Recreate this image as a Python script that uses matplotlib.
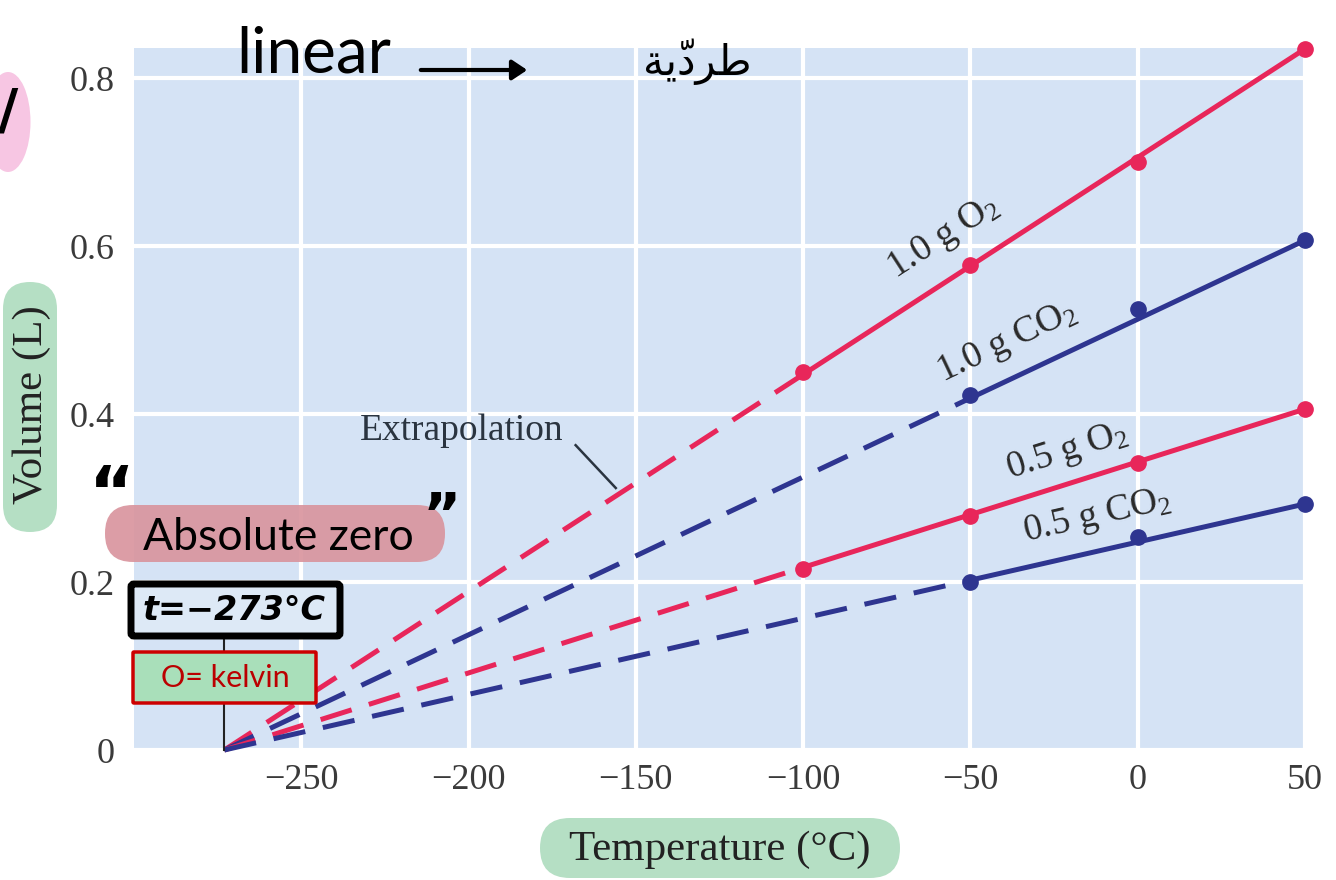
import numpy as np
import matplotlib
matplotlib.use("Agg")
import matplotlib.pyplot as plt
from matplotlib.patches import FancyBboxPatch, Ellipse, FancyArrowPatch

# ---------------- data ----------------
temps = [-100, -50, 0, 50]
o2_10 = [0.450, 0.577, 0.700, 0.835]
co2_10 = [None, 0.423, 0.525, 0.607]
o2_05 = [0.215, 0.279, 0.342, 0.406]
co2_05 = [None, 0.200, 0.254, 0.293]
abs_zero = -273
xticks = [-250, -200, -150, -100, -50, 0, 50]
xticklabels = ["\u2212250", "\u2212200", "\u2212150", "\u2212100", "\u221250", "0", "50"]
yticks = [0, 0.2, 0.4, 0.6, 0.8]
yticklabels = ["0", "0.2", "0.4", "0.6", "0.8"]

RED = "#e8265a"
BLUE = "#2e3590"
BG = "#d5e3f5"
GREEN = "#b5dfc4"

plt.rcParams['font.family'] = ['Liberation Serif', 'DejaVu Serif']
plt.rcParams['mathtext.fontset'] = 'custom'
plt.rcParams['mathtext.rm'] = 'Liberation Serif'
plt.rcParams['mathtext.it'] = 'Liberation Serif:italic'
plt.rcParams['mathtext.bf'] = 'Liberation Serif:bold'

fig = plt.figure(figsize=(13.36, 8.8), dpi=100)
fig.patch.set_facecolor("white")
ax = fig.add_axes([134/1336, 1-750/880, (1305-134)/1336, (750-48)/880])
ax.set_facecolor(BG)
ax.set_xlim(-300, 50)
ax.set_ylim(0, 0.836)
for s in ax.spines.values():
    s.set_visible(False)
ax.set_xticks(xticks)
ax.set_xticklabels(xticklabels)
ax.set_yticks(yticks)
ax.set_yticklabels(yticklabels)
ax.tick_params(length=0, labelsize=26, labelcolor="#3a3a3a")
ax.tick_params(axis='x', pad=10)
ax.tick_params(axis='y', pad=14)
ax.grid(True, color="white", linewidth=3)
ax.set_axisbelow(True)

series = [
    ("1.0 g O$_2$", o2_10, RED, (-58, 0.610)),
    ("1.0 g CO$_2$", co2_10, BLUE, (-39, 0.486)),
    ("0.5 g O$_2$", o2_05, RED, (-21, 0.356)),
    ("0.5 g CO$_2$", co2_05, BLUE, (-12, 0.278)),
]

for label, vals, col, (lx, ly) in series:
    xs = [t for t, v in zip(temps, vals) if v is not None]
    vs = [v for v in vals if v is not None]
    slope = vs[-1] / (xs[-1] - abs_zero)
    x0 = xs[0]
    ax.plot([abs_zero, x0], [0, slope * (x0 - abs_zero)], color=col, lw=3.6,
            linestyle=(0, (6.5, 3.6)), solid_capstyle='butt', clip_on=False, zorder=3)
    ax.plot([x0, xs[-1]], [slope * (x0 - abs_zero), vs[-1]], color=col, lw=3.6,
            solid_capstyle='round', clip_on=False, zorder=3)
    ax.plot(xs, vs, 'o', color=col, ms=11, clip_on=False, zorder=4)
    ang = np.degrees(np.arctan(slope))
    ax.text(lx, ly, label, fontsize=27, color="#2a2a2a", rotation=ang,
            transform_rotates_text=True, rotation_mode='anchor',
            ha='center', va='center', zorder=5)

# extrapolation label
ax.text(-232.5, 0.380, "Extrapolation", fontsize=27, color="#2a3440", ha='left', va='center')
ax.plot([-168, -156], [0.363, 0.312], color="#2a3440", lw=1.8)

# absolute zero vertical line
ax.plot([abs_zero, abs_zero], [0, 0.135], color="#222222", lw=1.5, zorder=6, clip_on=False)

# ---------------- overlay annotations (pixel coords) ----------------
T = fig.dpi_scale_trans
def P(x, y):
    return (x / 100.0, (880 - y) / 100.0)

def rbox(x0, y0, x1, y1, fc, ec="none", lw=0, rs=0.2, z=10, alpha=1.0):
    p = FancyBboxPatch(P(x0, y1), (x1 - x0) / 100.0, (y1 - y0) / 100.0,
                       boxstyle=f"round,pad=0,rounding_size={rs}", fc=fc, ec=ec, lw=lw,
                       transform=T, zorder=z, alpha=alpha, clip_on=False)
    fig.add_artist(p)

# axis labels with green highlight
rbox(540, 818, 900, 878, GREEN, rs=0.3)
fig.text(*P(720, 850), "Temperature (\u00b0C)", transform=T, fontsize=31, ha='center',
         va='center', color="#222222", zorder=11)
rbox(3, 282, 57, 532, GREEN, rs=0.27)
fig.text(*P(32, 405), "Volume (L)", transform=T, fontsize=31, ha='center', va='center',
         rotation=90, color="#222222", zorder=11)

# handwritten notes
fig.text(*P(236, 54), "linear", transform=T, fontsize=46, family=['Lato', 'DejaVu Sans'],
         ha='left', va='center', color="black", zorder=11)
arr = FancyArrowPatch(P(418, 70), P(530, 70), transform=T, arrowstyle='-|>,head_length=6,head_width=4',
                      lw=3, color="black", mutation_scale=1.5, zorder=11)
fig.add_artist(arr)
fig.text(*P(697, 62), "\ufe94\ufef3\u0651\ufea9\ufeae\ufec3", transform=T, fontsize=30,
         family=['DejaVu Sans'], ha='center', va='center', color="black", zorder=11)

# pink blob at left edge
fig.add_artist(Ellipse(P(8, 122), 0.45, 1.0, transform=T, fc="#f7c6e3", ec="none", zorder=9))
fig.text(*P(8, 112), "/", transform=T, fontsize=40, fontweight='bold', family=['DejaVu Sans'],
         ha='center', va='center', color="black", zorder=10)

# Absolute zero
rbox(105, 505, 445, 562, "#d9939c", rs=0.28, alpha=0.9)
fig.text(*P(278, 537), "Absolute zero", transform=T, fontsize=32, family=['Lato', 'DejaVu Sans'],
         ha='center', va='center', color="black", zorder=11)
fig.text(*P(112, 496), "\u201c", transform=T, fontsize=50, fontweight='bold', family=['DejaVu Sans'],
         ha='center', va='center', color="black", zorder=11)
fig.text(*P(442, 518), "\u201d", transform=T, fontsize=42, fontweight='bold', family=['DejaVu Sans'],
         ha='center', va='center', color="black", zorder=11)

# t = -273 °C box
rbox(131, 584, 340, 636, "#dde9f6", ec="black", lw=5, rs=0.03)
fig.text(*P(234, 610), "t=\u2212273\u00b0C", transform=T, fontsize=24, fontweight='heavy',
         family=['DejaVu Sans'], style='italic', ha='center', va='center', color="black", zorder=11)

# 0 = kelvin box
rbox(133, 652, 316, 703, "#a9dfba", ec="#cc0000", lw=2.5, rs=0.01)
fig.text(*P(225, 678), "O= kelvin", transform=T, fontsize=22, family=['Lato', 'DejaVu Sans'],
         ha='center', va='center', color="#bb0000", zorder=11)

fig.savefig("out.png", dpi=100)
